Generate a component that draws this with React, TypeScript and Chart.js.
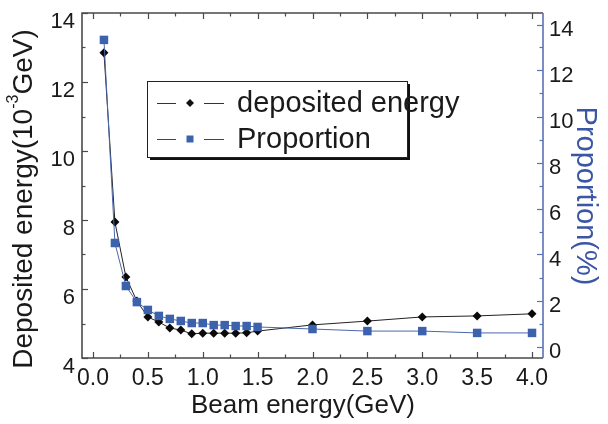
import React, { useEffect, useRef } from "react";
import { Chart, registerables } from "chart.js";

Chart.register(...registerables);

const beamEnergy = [0.1, 0.2, 0.3, 0.4, 0.5, 0.6, 0.7, 0.8, 0.9, 1.0, 1.1, 1.2, 1.3, 1.4, 1.5, 2.0, 2.5, 3.0, 3.5, 4.0];
const depositedEnergy = [12.85, 7.94, 6.35, 5.65, 5.19, 5.04, 4.87, 4.81, 4.7, 4.72, 4.72, 4.72, 4.72, 4.73, 4.78, 4.96, 5.07, 5.19, 5.22, 5.28];
const proportion = [13.33, 4.5, 2.63, 1.93, 1.59, 1.33, 1.2, 1.11, 1.02, 1.02, 0.93, 0.93, 0.89, 0.89, 0.85, 0.76, 0.67, 0.67, 0.59, 0.59];

const seriesNames = ["deposited energy", "Proportion"];
const xTitle = "Beam energy(GeV)";
const yLeftTitle = ["Deposited energy(10", "-3", "GeV)"];
const yRightTitle = "Proportion(%)";

const FONT = "'Liberation Sans', Arial, sans-serif";
const BLUE = "#3d62ad";
const BLUE_LINE = "#4a66ad";
const AXIS = "#4a4a4a";
const AXIS_BLUE = "#5a72b4";

const decor = {
  id: "decor",
  afterDraw(chart: any) {
    const { ctx, chartArea: a, scales } = chart;
    const xs = scales.x;
    const yl = scales.y;
    const yr = scales.y2;
    ctx.save();

    // ticks (inward)
    ctx.lineWidth = 1.2;
    ctx.strokeStyle = AXIS;
    const xt = xs.ticks.map((t: any) => t.value);
    const xStep = xt[1] - xt[0];
    const drawX = (v: number, len: number) => {
      const p = Math.round(xs.getPixelForValue(v)) + 0.5;
      ctx.beginPath();
      ctx.moveTo(p, a.bottom);
      ctx.lineTo(p, a.bottom - len);
      ctx.moveTo(p, a.top);
      ctx.lineTo(p, a.top + len);
      ctx.stroke();
    };
    xt.forEach((v: number) => drawX(v, 6));
    xt.forEach((v: number) => {
      if (v + xStep / 2 <= xs.max) drawX(v + xStep / 2, 3.5);
    });

    const ylt = yl.ticks.map((t: any) => t.value);
    const ylStep = ylt[1] - ylt[0];
    const drawYL = (v: number, len: number) => {
      const p = Math.round(yl.getPixelForValue(v)) + 0.5;
      ctx.beginPath();
      ctx.moveTo(a.left, p);
      ctx.lineTo(a.left + len, p);
      ctx.stroke();
    };
    ylt.forEach((v: number) => drawYL(v, 6));
    ylt.forEach((v: number) => {
      if (v + ylStep / 2 < yl.max) drawYL(v + ylStep / 2, 3.5);
    });

    ctx.strokeStyle = AXIS_BLUE;
    const yrt = yr.ticks.map((t: any) => t.value);
    const yrStep = yrt[1] - yrt[0];
    const drawYR = (v: number, len: number) => {
      const p = Math.round(yr.getPixelForValue(v)) + 0.5;
      ctx.beginPath();
      ctx.moveTo(a.right, p);
      ctx.lineTo(a.right - len, p);
      ctx.stroke();
    };
    yrt.forEach((v: number) => drawYR(v, 6));
    yrt.forEach((v: number) => {
      if (v + yrStep / 2 < yr.max) drawYR(v + yrStep / 2, 3.5);
    });

    // frame
    ctx.lineWidth = 1.6;
    ctx.strokeStyle = AXIS;
    ctx.beginPath();
    ctx.moveTo(a.right, a.top);
    ctx.lineTo(a.left, a.top);
    ctx.lineTo(a.left, a.bottom);
    ctx.lineTo(a.right, a.bottom);
    ctx.stroke();
    ctx.strokeStyle = AXIS_BLUE;
    ctx.beginPath();
    ctx.moveTo(a.right, a.top);
    ctx.lineTo(a.right, a.bottom);
    ctx.stroke();

    // x title
    ctx.fillStyle = "#1a1a1a";
    ctx.textBaseline = "middle";
    ctx.textAlign = "center";
    ctx.font = `26px ${FONT}`;
    ctx.fillText(xTitle, 303, 406);

    // left title with superscript
    ctx.save();
    ctx.translate(24, 199);
    ctx.rotate(-Math.PI / 2);
    ctx.textAlign = "left";
    const big = `28px ${FONT}`;
    const small = `16px ${FONT}`;
    ctx.font = big;
    const w1 = ctx.measureText(yLeftTitle[0]).width;
    const w3 = ctx.measureText(yLeftTitle[2]).width;
    ctx.font = small;
    const w2 = ctx.measureText(yLeftTitle[1]).width;
    const start = -(w1 + w2 + w3) / 2;
    ctx.font = big;
    ctx.fillText(yLeftTitle[0], start, 0);
    ctx.font = small;
    ctx.fillText(yLeftTitle[1], start + w1, -10);
    ctx.font = big;
    ctx.fillText(yLeftTitle[2], start + w1 + w2, 0);
    ctx.restore();

    // right title
    ctx.save();
    ctx.translate(585, 196);
    ctx.rotate(Math.PI / 2);
    ctx.fillStyle = "#3a56a5";
    ctx.font = `29px ${FONT}`;
    ctx.textAlign = "center";
    ctx.fillText(yRightTitle, 0, 0);
    ctx.restore();

    // legend
    const bx = 147, by = 81, bw = 260, bh = 76;
    ctx.fillStyle = "#111";
    ctx.fillRect(bx + 3, by + 3, bw, bh);
    ctx.fillStyle = "#fff";
    ctx.fillRect(bx, by, bw, bh);
    ctx.lineWidth = 1;
    ctx.strokeStyle = "#222";
    ctx.strokeRect(bx + 0.5, by + 0.5, bw, bh);

    const rows = [
      { y: 103, color: "#111", line: "#333", style: "diamond" },
      { y: 139, color: BLUE, line: "#444", style: "square" },
    ];
    rows.forEach((r, i) => {
      ctx.strokeStyle = r.line;
      ctx.lineWidth = 1.2;
      ctx.beginPath();
      ctx.moveTo(157, r.y + 0.5);
      ctx.lineTo(176, r.y + 0.5);
      ctx.moveTo(204, r.y + 0.5);
      ctx.lineTo(224, r.y + 0.5);
      ctx.stroke();
      ctx.fillStyle = r.color;
      ctx.beginPath();
      if (r.style === "diamond") {
        ctx.moveTo(190, r.y - 4);
        ctx.lineTo(194, r.y);
        ctx.lineTo(190, r.y + 4);
        ctx.lineTo(186, r.y);
        ctx.closePath();
      } else {
        ctx.rect(186.5, r.y - 3.5, 7, 7);
      }
      ctx.fill();
      ctx.fillStyle = "#1a1a1a";
      ctx.textAlign = "left";
      ctx.textBaseline = "middle";
      ctx.font = `29px ${FONT}`;
      ctx.fillText(seriesNames[i], 237, r.y + 1);
    });

    ctx.restore();
  },
};

export default function App() {
  const ref = useRef<HTMLCanvasElement>(null);
  useEffect(() => {
    const canvas = ref.current!;
    const chart = new Chart(canvas, {
      type: "line",
      data: {
        datasets: [
          {
            label: seriesNames[0],
            data: beamEnergy.map((x, i) => ({ x, y: depositedEnergy[i] })),
            yAxisID: "y",
            order: 1,
            borderColor: "#222",
            borderWidth: 1,
            pointStyle: "rectRot",
            pointRadius: 4.5,
            pointBackgroundColor: "#0a0a0a",
            pointBorderColor: "#0a0a0a",
            pointBorderWidth: 0,
            tension: 0,
          },
          {
            label: seriesNames[1],
            data: beamEnergy.map((x, i) => ({ x, y: proportion[i] })),
            yAxisID: "y2",
            order: 0,
            borderColor: BLUE_LINE,
            borderWidth: 1,
            pointStyle: "rect",
            pointRadius: 6,
            pointBackgroundColor: BLUE,
            pointBorderColor: BLUE,
            pointBorderWidth: 0,
            tension: 0,
          },
        ],
      },
      options: {
        responsive: false,
        animation: false,
        devicePixelRatio: 1,
        layout: { padding: { top: 13, left: 0, right: 0, bottom: 0 } },
        plugins: { legend: { display: false }, tooltip: { enabled: false } },
        scales: {
          x: {
            type: "linear",
            min: -0.1,
            max: 4.1,
            grid: { display: false, drawTicks: false },
            border: { display: false },
            ticks: {
              stepSize: 0.5,
              includeBounds: false,
              color: "#1a1a1a",
              font: { family: FONT, size: 23 },
              padding: 7,
              maxRotation: 0,
              callback: (v: any) => Number(v).toFixed(1),
            },
            afterFit: (s: any) => {
              s.height = 66;
              s.paddingLeft = 0;
              s.paddingRight = 0;
            },
          },
          y: {
            type: "linear",
            position: "left",
            min: 4,
            max: 14,
            grid: { display: false, drawTicks: false },
            border: { display: false },
            ticks: {
              stepSize: 2,
              includeBounds: false,
              color: "#1a1a1a",
              font: { family: FONT, size: 22 },
              padding: 7,
              labelOffset: 9,
            },
            afterFit: (s: any) => {
              s.width = 82;
              s.paddingTop = 0;
              s.paddingBottom = 0;
            },
          },
          y2: {
            type: "linear",
            position: "right",
            min: -0.5,
            max: 14.5,
            grid: { display: false, drawTicks: false },
            border: { display: false },
            ticks: {
              stepSize: 2,
              includeBounds: false,
              color: "#1a1a1a",
              font: { family: FONT, size: 22 },
              padding: 6,
              labelOffset: 5,
            },
            afterFit: (s: any) => {
              s.width = 65;
              s.paddingTop = 0;
              s.paddingBottom = 0;
            },
          },
        },
      },
      plugins: [decor],
    });
    return () => chart.destroy();
  }, []);
  return (
    <div style={{ position: "fixed", left: 0, top: 0, width: 608, height: 424, background: "#fff" }}>
      <canvas ref={ref} width={608} height={424} style={{ width: 608, height: 424, display: "block" }} />
    </div>
  );
}
